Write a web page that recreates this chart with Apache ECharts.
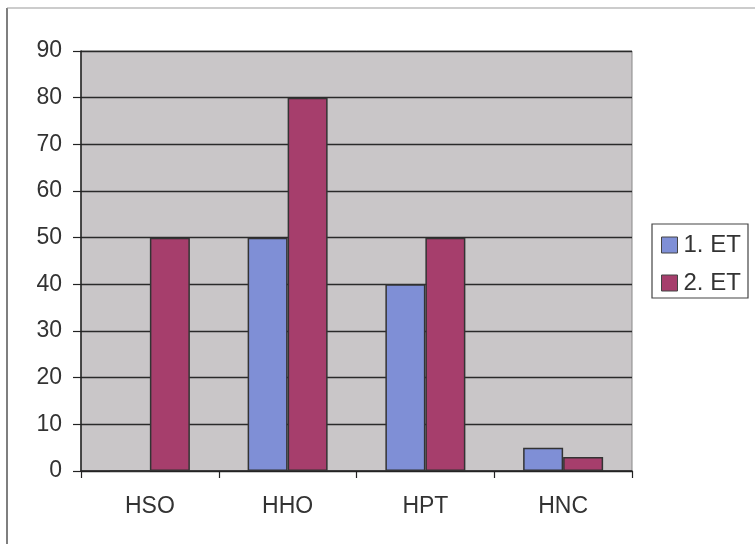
<!DOCTYPE html>
<html>
<head>
<meta charset="utf-8">
<script src="https://cdn.jsdelivr.net/npm/echarts@6/dist/echarts.min.js"></script>
<style>
html, body { margin: 0; padding: 0; background: #fff; }
#chart { width: 755px; height: 544px; }
</style>
</head>
<body>
<div id="chart"></div>
<script>
var categories = ['HSO', 'HHO', 'HPT', 'HNC'];
var seriesNames = ['1. ET', '2. ET'];
var et1 = [0, 50, 40, 5];
var et2 = [50, 80, 50, 3];
var yTicks = [0, 10, 20, 30, 40, 50, 60, 70, 80, 90];

var myChart = echarts.init(document.getElementById('chart'));

var option = {
    backgroundColor: '#fff',
    animation: false,
    textStyle: {fontFamily: 'Liberation Sans, Arial, sans-serif'},
    graphic: [
        // outer frame of the scanned chart
        {type: 'line', shape: {x1: 7, y1: 8, x2: 7, y2: 544}, style: {stroke: '#555', lineWidth: 1.5}},
        {type: 'line', shape: {x1: 7, y1: 8, x2: 755, y2: 8}, style: {stroke: '#999', lineWidth: 1}},
        // legend frame
        {type: 'rect', shape: {x: 652, y: 224, width: 96, height: 74},
            style: {fill: '#fff', stroke: '#444', lineWidth: 1.2}, z: 0}
    ],
    grid: {
        left: 81,
        right: 123,
        top: 51,
        bottom: 73,
        show: true,
        backgroundColor: '#c9c6c8',
        borderColor: '#888',
        borderWidth: 1
    },
    legend: {
        orient: 'vertical',
        left: 656,
        top: 228,
        icon: 'rect',
        itemWidth: 16,
        itemHeight: 16,
        itemGap: 14,
        data: seriesNames,
        textStyle: {fontSize: 24, lineHeight: 24, color: '#333', padding: [0, 0, 0, 1],
            fontFamily: 'Liberation Sans, Arial, sans-serif'},
        itemStyle: {borderColor: '#444', borderWidth: 1}
    },
    xAxis: {
        type: 'category',
        data: categories,
        axisLine: {show: true, lineStyle: {color: '#222', width: 1.5}},
        axisTick: {show: true, length: 7, lineStyle: {color: '#222', width: 1.2}},
        axisLabel: {fontSize: 23, color: '#333', margin: 24}
    },
    yAxis: {
        type: 'value',
        min: 0,
        max: 90,
        interval: 10,
        axisLine: {show: true, lineStyle: {color: '#222', width: 1.5}},
        axisTick: {show: true, length: 8, lineStyle: {color: '#222', width: 1.2}},
        axisLabel: {
            fontSize: 23, color: '#333', margin: 19,
            formatter: function (v) { return yTicks.indexOf(v) >= 0 ? String(v) : ''; }
        },
        splitLine: {show: true, lineStyle: {color: '#2a2a2a', width: 1.3}}
    },
    series: [
        {
            name: seriesNames[0],
            type: 'bar',
            data: et1,
            barWidth: 40,
            barGap: '0%',
            itemStyle: {color: '#7f8fd6', borderColor: '#333', borderWidth: 1.5}
        },
        {
            name: seriesNames[1],
            type: 'bar',
            data: et2,
            barWidth: 40,
            itemStyle: {color: '#a63e6c', borderColor: '#333', borderWidth: 1.5}
        }
    ]
};

myChart.setOption(option);
</script>
</body>
</html>
